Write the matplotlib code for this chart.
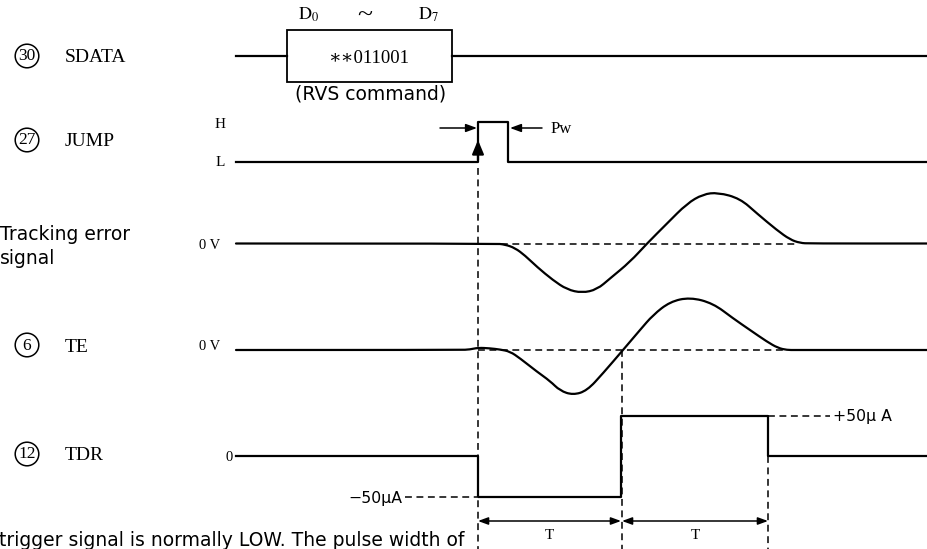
import numpy as np
import matplotlib.pyplot as plt
from matplotlib.patches import Circle, Rectangle, PathPatch
from matplotlib.path import Path

plt.rcParams['mathtext.fontset'] = 'stix'

# time positions along the diagram (left edge of traces -> right edge)
t_left = 236
t_right = 927

# SDATA: command block
sdata_box = [287, 452]
sdata_bits = '\u2217\u2217011001'

# JUMP: L=0, H=1
jump_t = [t_left, 478, 478, 508, 508, t_right]
jump_v = [0, 0, 1, 1, 0, 0]

# tracking error signal (relative amplitude, + is up)
track_t = [t_left, 495, 505, 515, 525, 537, 553, 567, 582, 597, 610, 630, 647, 667,
           687, 703, 718, 740, 757, 777, 790, 800, 810, t_right]
track_v = [0, 0, -1, -4.5, -12, -23.4, -36.7, -46, -49.4, -46, -35, -18.4, 0, 20,
           40, 49.3, 51, 45, 30, 13.3, 4, 0.5, 0, 0]

# TE (pin 6)
te_t = [t_left, 460, 470, 478, 490, 500, 510, 520, 537, 550, 560, 573, 587, 603, 623,
        640, 653, 670, 690, 713, 733, 750, 767, 778, 787, 795, t_right]
te_v = [0, 0, 0.5, 2.3, 1.7, 0.5, -1.5, -8.3, -21.7, -31, -40.7, -45, -40.7, -23.3, 0,
        20, 35, 48.3, 52.7, 46.7, 31.7, 20, 8.3, 2, 0, 0, 0]

# TDR (pin 12) in uA
tdr_t = [t_left, 478, 478, 621, 621, 768, 768, t_right]
tdr_v = [0, 0, -50, -50, 50, 50, 0, 0]

pins = ['30', '27', '6', '12']
names = ['SDATA', 'JUMP', 'TE', 'TDR']

# row baselines (y from top)
y_sdata = 56
y_jump = 162
y_track = 243.5
y_te = 350
y_tdr = 456


def smooth_trace(ax, xs, ys, **kw):
    # quadratic bezier chain through the read points
    pts = list(zip(xs, ys))
    verts = [pts[0]]
    codes = [Path.MOVETO]
    for i in range(1, len(pts) - 1):
        mid = ((pts[i][0] + pts[i + 1][0]) / 2, (pts[i][1] + pts[i + 1][1]) / 2)
        verts += [pts[i], mid]
        codes += [Path.CURVE3, Path.CURVE3]
    verts.append(pts[-1])
    codes.append(Path.LINETO)
    ax.add_patch(PathPatch(Path(verts, codes), fill=False, **kw))


fig = plt.figure(figsize=(9.27, 5.49), dpi=100)
ax = fig.add_axes([0, 0, 1, 1])
ax.set_xlim(0, 927)
ax.set_ylim(549, 0)
ax.axis('off')

lw = 1.6
serif = ['Liberation Serif', 'DejaVu Serif']
sans = ['DejaVu Sans']
dash = (0, (4.5, 3))

# pin labels
pin_y = [56, 140, 345, 454]
for p, n, yy in zip(pins, names, pin_y):
    ax.add_patch(Circle((27, yy), 11.8, fill=False, lw=1.1, color='k'))
    ax.text(27, yy + 0.5, p, family=serif, fontsize=12.5, ha='center', va='center')
    ax.text(65, yy + 6.5, n, family=serif, fontsize=14, ha='left', va='baseline')

ax.text(0, 239.5, 'Tracking error', family=sans, fontsize=13.5, ha='left', va='baseline')
ax.text(0, 264, 'signal', family=sans, fontsize=13.5, ha='left', va='baseline')

# SDATA
ax.plot([t_left, sdata_box[0]], [y_sdata, y_sdata], color='k', lw=lw)
ax.plot([sdata_box[1], t_right], [y_sdata, y_sdata], color='k', lw=lw)
ax.add_patch(Rectangle((sdata_box[0], 29.5), sdata_box[1] - sdata_box[0], 52,
                       fill=False, lw=1.3, color='k'))
ax.text(369, 63, sdata_bits, family=serif, fontsize=13.5, ha='center', va='baseline')
ax.text(309, 20, r'$\mathrm{D_0}$', fontsize=13, ha='center', va='baseline')
ax.text(428, 20, r'$\mathrm{D_7}$', fontsize=13, ha='center', va='baseline')
ax.text(365, 23, '~', family=serif, fontsize=20, ha='center', va='baseline')
ax.text(295, 100, '(RVS command)', family=sans, fontsize=13.5, ha='left', va='baseline')

# JUMP
ax.plot(jump_t, y_jump - 40 * np.array(jump_v), color='k', lw=lw)
ax.text(220, 127.5, 'H', family=serif, fontsize=11, ha='center', va='baseline')
ax.text(220, 166.5, 'L', family=serif, fontsize=11, ha='center', va='baseline')
ax.annotate('', xy=(478, 140), xytext=(478, 160),
            arrowprops=dict(arrowstyle='-|>,head_length=0.6,head_width=0.25',
                            mutation_scale=14, lw=lw, color='k', shrinkA=0, shrinkB=0))
ax.annotate('', xy=(477, 128), xytext=(440, 128),
            arrowprops=dict(arrowstyle='-|>,head_length=0.6,head_width=0.22',
                            mutation_scale=11, lw=1.1, color='k', shrinkA=0, shrinkB=0))
ax.annotate('', xy=(510, 128), xytext=(542, 128),
            arrowprops=dict(arrowstyle='-|>,head_length=0.6,head_width=0.22',
                            mutation_scale=11, lw=1.1, color='k', shrinkA=0, shrinkB=0))
ax.text(551, 133, 'Pw', family=serif, fontsize=12, ha='left', va='baseline')

# tracking error
smooth_trace(ax, track_t, y_track - np.array(track_v), color='k', lw=lw,
             joinstyle='round', capstyle='round')
ax.plot([478, 797], [y_track, y_track], color='k', lw=1.1, ls=dash)
ax.text(210, 249, '0 V', family=serif, fontsize=10.5, ha='center', va='baseline')

# TE
smooth_trace(ax, te_t, y_te - np.array(te_v), color='k', lw=lw,
             joinstyle='round', capstyle='round')
ax.plot([478, 787], [y_te, y_te], color='k', lw=1.1, ls=dash)
ax.text(210, 350, '0 V', family=serif, fontsize=10.5, ha='center', va='baseline')

# TDR
ax.plot(tdr_t, y_tdr - 0.81 * np.array(tdr_v), color='k', lw=lw)
ax.text(229, 461, '0', family=serif, fontsize=10.5, ha='center', va='baseline')
ax.plot([405, 477], [y_tdr + 0.81 * 50] * 2, color='k', lw=1.1, ls=dash)
ax.plot([768, 830], [y_tdr - 0.81 * 50] * 2, color='k', lw=1.1, ls=dash)
ax.text(402, 502.5, '\u221250\u03bcA', family=sans, fontsize=11.3, ha='right', va='baseline')
ax.text(833, 421.5, '+50\u03bc A', family=sans, fontsize=11.3, ha='left', va='baseline')

# vertical dashed guides
ax.plot([478, 478], [168, 549], color='k', lw=1.1, ls=dash)
ax.plot([622, 622], [y_te, 549], color='k', lw=1.1, ls=dash)
ax.plot([768, 768], [y_tdr, 549], color='k', lw=1.1, ls=dash)

# T intervals
for a, b in [(478, 621), (622, 768)]:
    ax.annotate('', xy=(b, 521), xytext=(a, 521),
                arrowprops=dict(arrowstyle='<|-|>,head_length=0.6,head_width=0.22',
                                mutation_scale=10, lw=1.1, color='k', shrinkA=0, shrinkB=0))
    ax.text((a + b) / 2, 539, 'T', family=serif, fontsize=11, ha='center', va='baseline')

ax.text(-1, 546, 'trigger signal is normally LOW. The pulse width of',
        family=sans, fontsize=13.5, ha='left', va='baseline')

fig.savefig('out.png', dpi=100)
